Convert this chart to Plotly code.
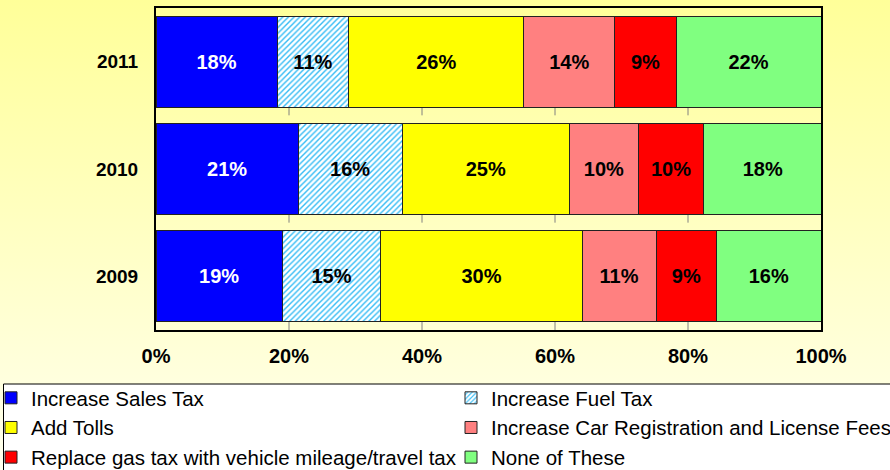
import base64
import plotly.graph_objects as go

# ---------------- data ----------------
years = ["2009", "2010", "2011"]
sales_tax = [19.0, 21.4, 18.2]
fuel_tax = [14.8, 15.6, 10.8]
tolls = [30.3, 25.2, 26.3]
car_reg = [11.1, 10.3, 13.7]
mileage_tax = [9.1, 9.9, 9.2]
none_of_these = [15.7, 17.7, 21.8]

series_names = [
    "Increase Sales Tax",
    "Increase Fuel Tax",
    "Add Tolls",
    "Increase Car Registration and License Fees",
    "Replace gas tax with vehicle mileage/travel tax",
    "None of These",
]
x_tickvals = [0, 20, 40, 60, 80, 100]
x_ticktext = ["0%", "20%", "40%", "60%", "80%", "100%"]

# ---------------- layout constants ----------------
W, H = 890, 470
ML, MR, MT, MB = 156, 69, 8, 140
PW, PH = W - ML - MR, H - MT - MB
BARGAP = 0.15
FONT = "Liberation Sans, Arial, sans-serif"


def px_x(px):
    return (px - ML) / PW


def px_y(py):
    return (H - MB - py) / PH


values = [sales_tax, fuel_tax, tolls, car_reg, mileage_tax, none_of_these]
colors = ["#0000FF", "#FFFFFF", "#FFFF00", "#FF8080", "#FF0000", "#80FF80"]
text_colors = ["white", "black", "black", "black", "black", "black"]
legends = ["legend", "legend2", "legend", "legend2", "legend", "legend2"]

fig = go.Figure()
for i, (name, vals) in enumerate(zip(series_names, values)):
    marker = dict(color=colors[i], line=dict(color="#222222", width=1))
    if i == 1:
        marker["pattern"] = dict(shape="/", fgcolor="#33BBF5", bgcolor="#FFFFFF",
                                 size=4, solidity=0.35, fillmode="replace")
    fig.add_trace(go.Bar(
        y=years, x=vals, name=name, orientation="h",
        marker=marker,
        texttemplate="%{x:.0f}%",
        textposition="inside", insidetextanchor="middle",
        textangle=0,
        textfont=dict(family=FONT, size=20, color=text_colors[i], weight="bold"),
        legend=legends[i],
        hoverinfo="skip",
    ))

# Excel-style short gridline stubs visible in the gaps
shapes = []
for b in [-0.5, 0.5, 1.5]:
    for xv in x_tickvals[1:-1]:
        shapes.append(dict(type="line", xref="x", yref="y", x0=xv, x1=xv,
                           y0=b, y1=b + BARGAP / 2, line=dict(color="#808080", width=1),
                           layer="below"))
# legend frame
shapes.append(dict(type="rect", xref="paper", yref="paper",
                   x0=px_x(3.5), x1=px_x(900), y0=px_y(384), y1=px_y(480),
                   line=dict(color="#000000", width=1), fillcolor="#FFFFFF", layer="below"))

svg = (
    '<svg xmlns="http://www.w3.org/2000/svg" width="10" height="100" preserveAspectRatio="none">'
    '<defs><linearGradient id="g" x1="0" y1="0" x2="0" y2="1">'
    '<stop offset="0" stop-color="#FFFF99"/><stop offset="1" stop-color="#FFFFEE"/>'
    '</linearGradient></defs><rect width="10" height="100" fill="url(#g)"/></svg>'
)
svg_uri = "data:image/svg+xml;base64," + base64.b64encode(svg.encode()).decode()

legend_common = dict(xanchor="left", yanchor="top", orientation="v",
                     bgcolor="rgba(0,0,0,0)", borderwidth=0, traceorder="normal",
                     font=dict(family=FONT, size=20.5, color="black"), tracegroupgap=0)

fig.update_layout(
    width=W, height=H,
    margin=dict(l=ML, r=MR, t=MT, b=MB, autoexpand=False),
    barmode="stack", bargap=BARGAP,
    paper_bgcolor="#FFFFC8", plot_bgcolor="#FFFFFF",
    font=dict(family=FONT, color="black"),
    images=[dict(source=svg_uri, xref="paper", yref="paper",
                 x=px_x(0), y=px_y(0), sizex=W / PW, sizey=H / PH,
                 sizing="stretch", xanchor="left", yanchor="top", layer="below")],
    shapes=shapes,
    xaxis=dict(range=[0, 100], tickvals=x_tickvals, ticktext=x_ticktext,
               showgrid=False, zeroline=False, showline=True, mirror=True,
               linecolor="black", linewidth=2, ticks="", ticklabelstandoff=7,
               tickfont=dict(family=FONT, size=20, weight="bold")),
    yaxis=dict(type="category", categoryorder="array", categoryarray=years,
               range=[-0.5, 2.5], showgrid=False, zeroline=False, showline=True,
               mirror=True, linecolor="black", linewidth=2, ticks="",
               ticklabelstandoff=12,
               tickfont=dict(family=FONT, size=19, weight="bold")),
    legend=dict(x=px_x(-9), y=px_y(378), **legend_common),
    legend2=dict(x=px_x(451), y=px_y(378), **legend_common),
    showlegend=True,
)

fig.write_html("out.html", config={"displayModeBar": False},
               post_script="document.body.style.margin='0';document.body.style.overflow='hidden';")
